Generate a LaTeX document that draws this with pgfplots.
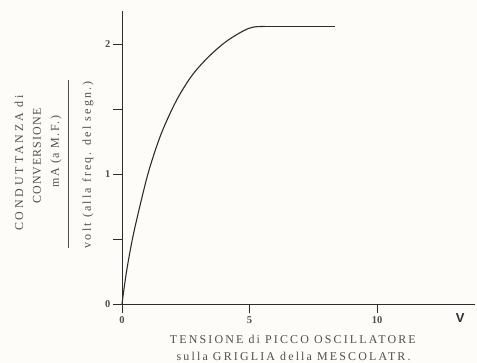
\documentclass[border=0pt]{standalone}
\usepackage{fontspec}
\setmainfont{Liberation Serif}
\newfontfamily\spaced[LetterSpace=18]{Liberation Serif}
\newfontfamily\spacedy[LetterSpace=24]{Liberation Serif}
\newfontfamily\spacedconv[LetterSpace=9]{Liberation Serif}
\newfontfamily\spacedma[LetterSpace=13]{Liberation Serif}
\newfontfamily\spacedvolt[LetterSpace=18]{Liberation Serif}
\newfontfamily\Vfont{Liberation Sans}
\usepackage{pgfplots}
\pgfplotsset{compat=1.18}
\definecolor{ink}{RGB}{45,45,45}
\definecolor{txt}{RGB}{80,80,80}
\definecolor{paper}{RGB}{253,252,248}
\begin{document}
\begin{tikzpicture}
\path[use as bounding box, fill=paper] (-122bp,-59bp) rectangle (355bp,304bp);
\begin{axis}[
  at={(0,0)}, anchor=origin,
  scale only axis, width=353.2bp, height=292.5bp,
  xmin=0, xmax=13.85, ymin=0, ymax=2.25,
  axis lines=left,
  axis line style={-, line width=0.9pt, color=ink},
  xtick={0,5,10}, ytick={0,1,2}, minor ytick={0.5,1.5},
  tick align=outside, major tick length=9bp, minor tick length=9bp,
  every tick/.style={line width=0.8pt, ink},
  tick label style={font=\fontsize{10.5}{12}\selectfont\bfseries, text=txt},
  yticklabel style={xshift=1bp},
  /pgf/number format/assume math mode=true,
  clip=false,
]
\addplot[smooth, tension=0.55, line width=1.1pt, ink] coordinates {
  (0,0) (0.17,0.24) (0.43,0.52) (0.82,0.85) (1.09,1.05) (1.48,1.28)
  (1.87,1.46) (2.26,1.61) (2.79,1.77) (3.44,1.91) (4.09,2.02)
  (4.75,2.10) (5.15,2.13) (5.6,2.135)
};
\addplot[line width=1.1pt, ink] coordinates {(5.6,2.135) (8.35,2.135)};
% y label
\node[rotate=90, text=txt, font=\fontsize{12}{14}\spacedy] at ([xshift=-103bp]axis cs:0,1.085) {CONDUTTANZA di};
\node[rotate=90, text=txt, font=\fontsize{12}{14}\spacedconv] at ([xshift=-85bp]axis cs:0,1.138) {CONVERSIONE};
\node[rotate=90, text=txt, font=\fontsize{12}{14}\spacedma] at ([xshift=-66bp]axis cs:0,1.17) {mA (a M.F.)};
\draw[line width=0.7pt, txt] ([xshift=-54bp]axis cs:0,0.431) -- ([xshift=-54bp]axis cs:0,1.723);
\node[rotate=90, text=txt, font=\fontsize{12}{14}\spacedvolt] at ([xshift=-34bp]axis cs:0,1.07) {volt (alla freq. del segn.)};
% x label
\node[text=txt, font=\fontsize{12}{14}\spaced] at ([yshift=-35bp]axis cs:6.7,0) {TENSIONE di PICCO OSCILLATORE};
\node[text=txt, font=\fontsize{12}{14}\spaced] at ([yshift=-52bp]axis cs:6.73,0) {sulla GRIGLIA della MESCOLATR.};
\node[text=ink, font=\fontsize{13}{15}\Vfont\bfseries] at ([xshift=-15bp,yshift=-14bp]axis cs:13.85,0) {V};
\end{axis}
\end{tikzpicture}
\end{document}
